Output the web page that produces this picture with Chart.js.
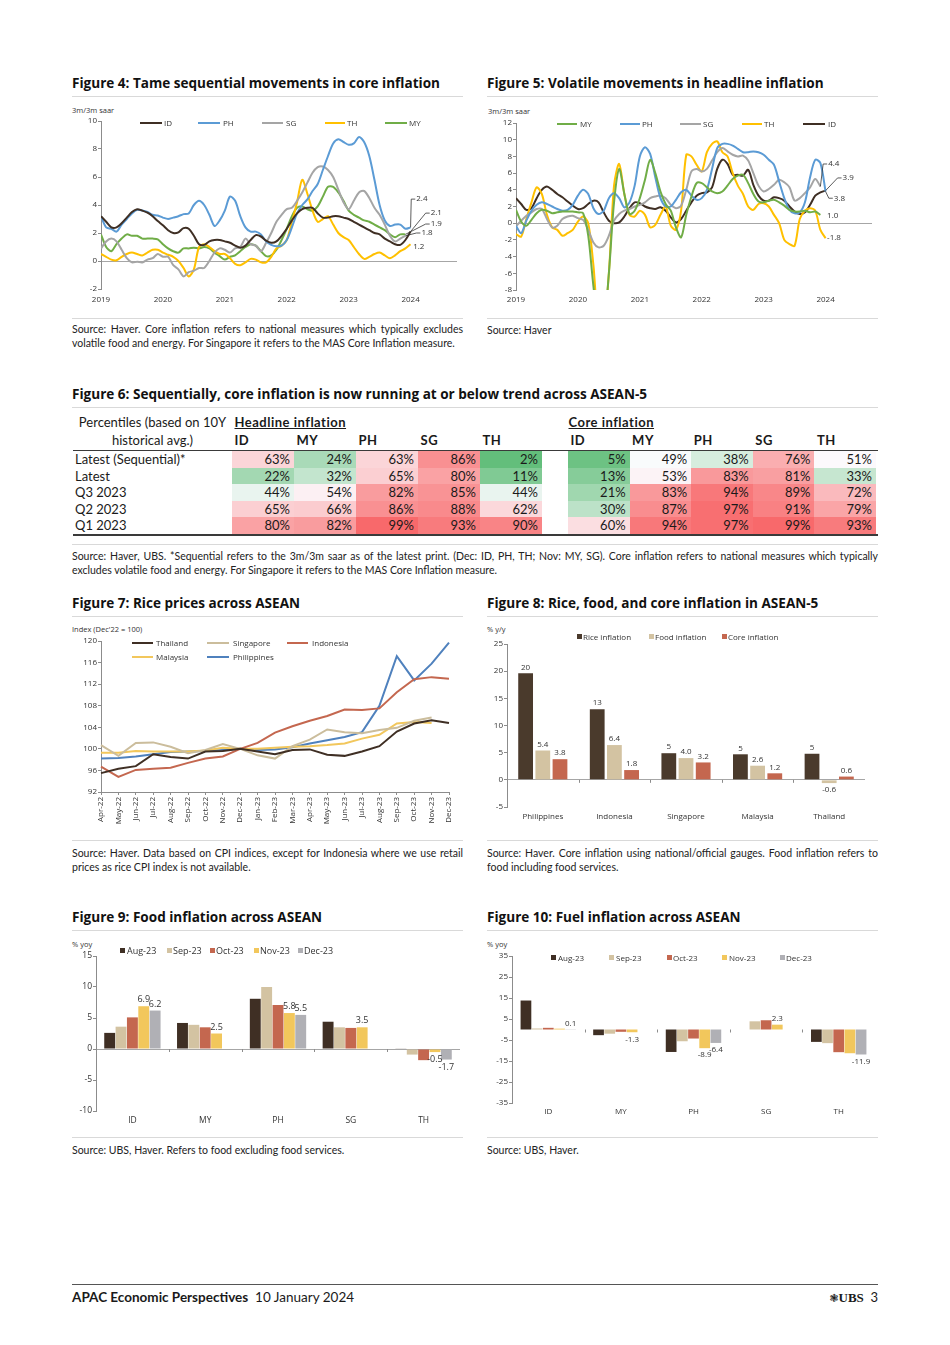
<!DOCTYPE html>
<html>
<head>
<meta charset="utf-8">
<title>APAC Economic Perspectives</title>
<script src="https://cdn.jsdelivr.net/npm/chart.js@4.4.1/dist/chart.umd.min.js"></script>
<style>
  html, body { margin: 0; padding: 0; background: #fff; }
  #page { position: relative; width: 950px; height: 1345px; overflow: hidden; font-family: Lato, "Open Sans", sans-serif; color: #1a1a1a; }
  .title { position: absolute; font-family: "Open Sans", sans-serif; font-weight: 700; font-size: 13px; line-height: 16px; white-space: nowrap; color: #111; }
  .rule { position: absolute; height: 1px; background: #d9d9d9; }
  .src { position: absolute; font-size: 10.5px; line-height: 13.5px; color: #222; }
  .src .j { display: block; text-align: justify; text-align-last: justify; }
  .note { position: absolute; font-family: "Open Sans", sans-serif; font-size: 7.5px; line-height: 10px; color: #333; white-space: nowrap; }
  .leg { position: absolute; font-family: "Open Sans", sans-serif; font-size: 8px; line-height: 10px; color: #333; white-space: nowrap; }
  .cell { position: absolute; box-sizing: border-box; font-size: 13px; line-height: 17px; white-space: nowrap; color: #1a1a1a; }
  canvas { position: absolute; }
</style>
</head>
<body>
<div id="page">

  <!-- Figure 4 / 5 -->
  <div class="title" style="left:72px;top:75px;">Figure 4: Tame sequential movements in core inflation</div>
  <div class="title" style="left:487px;top:75px;">Figure 5: Volatile movements in headline inflation</div>
  <div class="rule" style="left:72px;top:96px;width:391px;"></div>
  <div class="rule" style="left:487px;top:96px;width:391px;"></div>
  <div class="note" style="left:72px;top:105px;">3m/3m saar</div>
  <div class="note" style="left:488px;top:106px;">3m/3m saar</div>
  <canvas id="fig4" width="395" height="212" style="left:72px;top:100px;width:395px;height:212px;"></canvas>
  <canvas id="fig5" width="390" height="212" style="left:487px;top:100px;width:390px;height:212px;"></canvas>
  <div class="rule" style="left:72px;top:318px;width:391px;"></div>
  <div class="rule" style="left:487px;top:318px;width:391px;"></div>
  <div class="src" style="left:72px;top:323px;width:391px;"><span class="j">Source: Haver. Core inflation refers to national measures which typically excludes</span>volatile food and energy. For Singapore it refers to the MAS Core Inflation measure.</div>
  <div class="src" style="left:487px;top:324px;width:391px;">Source: Haver</div>

  <!-- Figure 6 -->
  <div class="title" id="t6" style="left:72px;top:386px;">Figure 6: Sequentially, core inflation is now running at or below trend across ASEAN-5</div>
  <div class="rule" style="left:72px;top:407px;width:806px;"></div>
  <div class="rule" style="left:72px;top:544px;width:806px;"></div>
  <div class="src" style="left:72px;top:550px;width:806px;"><span class="j">Source: Haver, UBS. *Sequential refers to the 3m/3m saar as of the latest print. (Dec: ID, PH, TH; Nov: MY, SG). Core inflation refers to national measures which typically</span>excludes volatile food and energy. For Singapore it refers to the MAS Core Inflation measure.</div>

  <!-- Figure 7 / 8 -->
  <div class="title" style="left:72px;top:595px;">Figure 7: Rice prices across ASEAN</div>
  <div class="title" style="left:487px;top:595px;">Figure 8: Rice, food, and core inflation in ASEAN-5</div>
  <div class="rule" style="left:72px;top:616px;width:391px;"></div>
  <div class="rule" style="left:487px;top:616px;width:391px;"></div>
  <div class="note" style="left:72px;top:624px;">Index (Dec'22 = 100)</div>
  <div class="note" style="left:487px;top:624px;">% y/y</div>
  <canvas id="fig7" width="392" height="212" style="left:72px;top:622px;width:392px;height:212px;"></canvas>
  <canvas id="fig8" width="390" height="212" style="left:487px;top:622px;width:390px;height:212px;"></canvas>
  <div class="rule" style="left:72px;top:840px;width:391px;"></div>
  <div class="rule" style="left:487px;top:840px;width:391px;"></div>
  <div class="src" style="left:72px;top:847px;width:391px;"><span class="j">Source: Haver. Data based on CPI indices, except for Indonesia where we use retail</span>prices as rice CPI index is not available.</div>
  <div class="src" style="left:487px;top:847px;width:391px;"><span class="j">Source: Haver. Core inflation using national/official gauges. Food inflation refers to</span>food including food services.</div>

  <!-- Figure 9 / 10 -->
  <div class="title" style="left:72px;top:909px;">Figure 9: Food inflation across ASEAN</div>
  <div class="title" style="left:487px;top:909px;">Figure 10: Fuel inflation across ASEAN</div>
  <div class="rule" style="left:72px;top:930px;width:391px;"></div>
  <div class="rule" style="left:487px;top:930px;width:391px;"></div>
  <div class="note" style="left:72px;top:939px;">% yoy</div>
  <div class="note" style="left:487px;top:939px;">% yoy</div>
  <canvas id="fig9" width="395" height="195" style="left:72px;top:938px;width:395px;height:195px;"></canvas>
  <canvas id="fig10" width="391" height="195" style="left:487px;top:938px;width:391px;height:195px;"></canvas>
  <div class="rule" style="left:72px;top:1137px;width:391px;"></div>
  <div class="rule" style="left:487px;top:1137px;width:391px;"></div>
  <div class="src" style="left:72px;top:1144px;width:391px;">Source: UBS, Haver. Refers to food excluding food services.</div>
  <div class="src" style="left:487px;top:1144px;width:391px;">Source: UBS, Haver.</div>

  <!-- footer -->
  <div style="position:absolute;left:72px;top:1284px;width:806px;height:1px;background:#555;"></div>
  <div style="position:absolute;left:72px;top:1289px;font-size:13.5px;line-height:16px;white-space:nowrap;"><b>APAC Economic Perspectives</b>&nbsp;&nbsp;10 January 2024</div>
  <div style="position:absolute;right:72px;top:1289px;font-size:13px;line-height:16px;white-space:nowrap;"><span style="font-family:'DejaVu Sans';font-size:11px;">❃</span><span style="font-family:'Liberation Serif';font-weight:700;">UBS</span>&nbsp;&nbsp;3</div>
</div>

<script>
// ===== Figure 4: core inflation, 3m/3m saar (monthly, index 0 = start of 2019) =====
const yearTicks = [0, 12, 24, 36, 48, 60];
const yearLabels = ['2019', '2020', '2021', '2022', '2023', '2024'];

const fig4Names = ['ID', 'PH', 'SG', 'TH', 'MY'];
const coreID = [3.2, 2.8, 2.4, 2.4, 2.7, 3.1, 3.5, 3.7, 3.6, 3.45, 3.2, 2.85, 2.55, 2.2, 2.0, 2.05, 2.35, 2.3, 1.8, 1.2,
  1.15, 1.4, 1.5, 1.5, 1.4, 1.3, 1.1, 0.95, 1.1, 1.5, 1.85, 1.75, 1.45, 1.3, 1.4, 1.8, 2.3, 2.9, 3.4, 3.7,
  3.8, 3.8, 3.4, 3.1, 3.1, 3.2, 3.2, 3.1, 3.0, 2.8, 2.6, 2.4, 2.2, 2.0, 1.9, 1.6, 1.4, 1.2, 1.15, 1.5, 2.1];
const corePH = [3.2, 2.4, 2.3, 2.1, 2.6, 3.0, 3.4, 3.65, 3.6, 3.5, 3.3, 3.25, 3.1, 3.0, 3.1, 3.2, 3.35, 3.4, 4.0, 4.3,
  4.0, 3.3, 2.5, 2.9, 3.6, 4.6, 4.3, 3.2, 2.4, 2.1, 2.1, 1.9, 1.4, 1.15, 1.05, 1.1, 1.5, 2.4, 3.4, 4.0,
  4.4, 5.0, 5.5, 6.5, 7.5, 8.4, 8.7, 8.5, 8.3, 8.4, 8.85, 8.5, 7.5, 5.8, 4.0, 2.9, 2.5, 2.6, 2.6, 2.3, 2.4];
const coreSG = [0.9, 1.4, 1.6, 1.4, 0.8, 0.2, -0.1, -0.05, -0.1, 0.1, 0.2, 0.5, 0.3, 0.3, -0.3, -0.6, -1.1, -0.8, -0.7, -0.5,
  -0.5, 0.0, 0.6, 0.9, 0.8, 0.6, 0.9, 1.0, 1.6, 1.2, 1.1, 0.7, 1.3, 2.0, 2.8, 3.3, 3.7, 3.8, 4.3, 4.9,
  5.6, 6.3, 6.7, 6.75, 6.5, 6.0, 5.1, 4.2, 3.7, 4.3, 4.9, 5.0, 4.5, 3.8, 3.3, 2.6, 1.8, 1.4, 1.6, 1.8];
const coreTH = [0.5, 0.3, 0.1, 0.05, 0.3, 0.5, 0.6, 0.5, 0.4, 0.6, 0.8, 0.8, 0.6, 0.45, 0.3, 0.0, -0.5, -1.1, -0.6, 1.0,
  1.2, 1.0, 0.7, 0.5, 0.5, 0.2, -0.2, -0.3, -0.1, 0.15, 0.1, -0.1, -0.1, 0.3, 0.9, 1.1, 1.5, 2.8, 4.2, 5.8,
  4.8, 3.6, 2.8, 3.0, 3.2, 2.6, 2.0, 1.7, 1.5, 1.0, 0.5, 0.15, 0.3, 0.5, 0.6, 0.4, 0.2, 0.4, 0.7, 0.9, 1.2];
const coreMY = [1.9, 1.0, 0.7, 1.2, 1.6, 1.9, 1.8, 1.8, 1.6, 1.6, 1.6, 1.55, 1.2, 0.9, 0.7, 0.6, 0.9, 0.9, 0.95, 0.9,
  1.0, 0.9, 0.6, 0.35, 0.1, 0.3, 0.4, 0.7, 1.0, 1.2, 1.1, 0.7, 0.35, 0.4, 0.8, 1.5, 2.3, 3.2, 3.8, 3.9,
  3.7, 3.6, 3.9, 4.6, 5.3, 5.3, 4.9, 4.3, 3.6, 3.3, 3.1, 2.9, 2.8, 2.6, 2.4, 2.2, 1.9, 1.7, 1.9, 1.9];

// ===== Figure 5: headline inflation, 3m/3m saar =====
const fig5Names = ['MY', 'PH', 'SG', 'TH', 'ID'];
const headMY = [1.6, 0.2, -0.3, 0.4, 1.2, 1.6, 1.5, 1.2, 1.3, 1.4, 1.4, 1.4, 1.3, 1.2, -1.5, -7.5, -12, -12, -6, 2.5,
  6.5, 3.5, 1.1, 1.5, 3.0, 5.2, 7.6, 6.0, 3.8, 2.3, 1.5, -0.5, -1.7, 1.0, 3.2, 4.8, 4.8, 4.3, 3.8, 3.6,
  3.8, 4.5, 5.3, 5.7, 5.8, 4.8, 3.5, 2.6, 2.5, 2.7, 2.8, 2.5, 2.1, 1.6, 1.4, 1.4, 1.5, 1.3, 1.4, 1.0];
const headPH = [-0.3, -1.2, 0.3, 1.5, 2.2, 2.5, 2.3, 2.0, 1.7, 1.5, 1.6, 2.2, 3.3, 4.0, 3.5, 1.8, 1.1, 1.5, 3.0, 3.6,
  3.0, 1.9, 2.5, 4.5, 8.0, 9.1, 8.3, 5.5, 3.0, 2.0, 2.0, 2.8, 3.7, 4.0, 3.3, 2.8, 3.0, 4.0, 6.5, 9.0,
  9.5, 9.5, 9.3, 8.9, 8.5, 8.5, 8.6, 8.5, 8.2, 7.6, 7.0, 5.0, 3.0, 1.6, 1.2, 1.3, 2.5, 5.5, 7.6, 7.2, 3.8];
const headSG = [-0.4, 0.3, 0.9, 1.3, 1.7, 1.7, 0.5, -0.5, -0.3, 0.5, 0.8, 0.9, 0.6, 0.4, -0.8, -2.3, -2.9, -2.7, -1.5, 0.3,
  1.1, 1.5, 1.7, 2.0, 2.2, 2.5, 3.0, 3.2, 3.3, 3.0, 2.2, 1.8, 2.1, 4.0, 6.2, 6.5, 6.2, 6.5, 7.5, 8.5,
  9.0, 8.6, 8.2, 8.0, 8.1, 7.5, 6.0, 4.5, 3.8, 4.1, 4.6, 5.2, 4.9, 4.3, 2.7, 3.0, 3.6, 4.3, 5.3, 4.4];
const headTH = [-1.3, -1.6, 0.5, 2.5, 4.3, 3.5, 1.0, -0.5, -0.8, -1.5, -1.2, -0.8, 0.2, 0.8, 0.0, -5.0, -12, -12, -6, 4.5,
  7.1, 3.5, 1.0, 0.8, 1.5, 1.0, -0.5, -0.2, 1.0, 2.0, -0.3, -0.8, 1.5, 8.2, 8.0, 7.0, 6.2, 8.5, 9.5, 9.8,
  8.5, 8.0, 6.0, 4.5, 3.5, 2.0, 1.6, 2.3, 2.4, 2.0, 1.0, 0.0, -2.0, -2.5, -2.7, 0.5, 1.5, 1.8, 1.5, -0.8, -1.8];
const headID = [3.0, 2.3, 1.6, 1.8, 3.0, 4.0, 4.4, 4.0, 3.5, 3.1, 2.6, 2.1, 1.7, 1.8, 2.3, 2.7, 2.5, 1.3, 0.3, 0.0,
  0.1, 0.8, 1.8, 2.5, 2.4, 2.0, 1.8, 1.7, 1.9, 1.5, 0.7, 0.1, 0.5, 1.5, 2.5, 3.3, 3.6, 3.7, 4.3, 6.5,
  7.6, 7.1, 5.8, 5.8, 5.7, 6.4, 4.6, 3.3, 2.7, 2.7, 3.1, 3.0, 2.7, 2.0, 1.4, 1.1, 1.3, 2.2, 3.3, 3.7, 3.9];

// ===== Figure 6: percentile table =====
const tableRowNames = ['Latest (Sequential)*', 'Latest', 'Q3 2023', 'Q2 2023', 'Q1 2023'];
const tableCountries = ['ID', 'MY', 'PH', 'SG', 'TH'];
const headlinePct = [[63, 24, 63, 86, 2], [22, 32, 65, 80, 11], [44, 54, 82, 85, 44], [65, 66, 86, 88, 62], [80, 82, 99, 93, 90]];
const corePct = [[5, 49, 38, 76, 51], [13, 53, 83, 81, 33], [21, 83, 94, 89, 72], [30, 87, 97, 91, 79], [60, 94, 97, 99, 93]];

// ===== Figure 7: rice prices, index Dec'22 = 100 =====
const riceMonths = ['Apr-22', 'May-22', 'Jun-22', 'Jul-22', 'Aug-22', 'Sep-22', 'Oct-22', 'Nov-22', 'Dec-22', 'Jan-23', 'Feb-23',
  'Mar-23', 'Apr-23', 'May-23', 'Jun-23', 'Jul-23', 'Aug-23', 'Sep-23', 'Oct-23', 'Nov-23', 'Dec-23'];
const fig7Names = ['Thailand', 'Singapore', 'Indonesia', 'Malaysia', 'Philippines'];
const riceTH = [95.5, 96.3, 96.8, 99.0, 98.5, 98.2, 99.5, 99.6, 100, 99.5, 99.0, 99.8, 99.9, 98.9, 98.7, 99.5, 100.5, 103.2, 104.7, 105.3, 104.8];
const riceSG = [100.7, 98.7, 101.1, 101.2, 100.4, 99.2, 99.8, 100.9, 100, 98.8, 98.2, 100.5, 101.7, 103.6, 103.1, 102.9, 103.5, 103.9, 105.2, 105.8];
const riceID = [96.7, 94.8, 96.1, 96.3, 96.5, 97.4, 98.2, 98.6, 100, 101.1, 103.0, 104.2, 105.2, 106.1, 107.3, 107.2, 107.5, 110.5, 112.9, 113.3, 113.0];
const riceMY = [99.3, 99.3, 99.6, 99.5, 99.5, 99.5, 99.7, 100.2, 100, 100.0, 100.2, 100.4, 100.5, 100.7, 101.0, 101.9, 102.6, 104.7, 105.0, 104.8];
const ricePH = [98.2, 98.3, 98.6, 99.0, 99.4, 99.5, 99.6, 99.8, 100, 99.8, 99.9, 100.3, 101.0, 101.6, 102.2, 103.1, 108.0, 117.2, 112.7, 115.8, 119.7];

// ===== Figure 8: rice, food and core inflation, % y/y =====
const fig8Countries = ['Philippines', 'Indonesia', 'Singapore', 'Malaysia', 'Thailand'];
const fig8Names = ['Rice inflation', 'Food inflation', 'Core inflation'];
const riceInfl = [19.6, 13.0, 4.9, 4.7, 4.8];
const foodInfl = [5.4, 6.4, 4.0, 2.6, -0.6];
const coreInfl = [3.8, 1.8, 3.2, 1.2, 0.6];

// ===== Figures 9 and 10: food and fuel inflation, % yoy =====
const aseanCodes = ['ID', 'MY', 'PH', 'SG', 'TH'];
const monthNames = ['Aug-23', 'Sep-23', 'Oct-23', 'Nov-23', 'Dec-23'];
const foodAug = [2.6, 4.2, 8.1, 4.4, 0.1];
const foodSep = [3.6, 3.9, 10.0, 3.5, -0.9];
const foodOct = [5.1, 3.5, 7.1, 3.4, -1.8];
const foodNov = [6.9, 2.5, 5.8, 3.5, -0.5];
const foodDec = [6.2, null, 5.5, null, -1.7];
const fuelAug = [13.8, -2.7, -10.7, null, -5.9];
const fuelSep = [0.5, -2.0, -5.6, 3.9, -6.5];
const fuelOct = [0.8, -1.1, -4.3, 4.4, -10.8];
const fuelNov = [0.4, -1.3, -8.9, 2.3, -11.3];
const fuelDec = [0.1, null, -6.4, null, -11.9];

// ---------------------------------------------------------------------------
const C_BROWN = '#3f2f24';
const C_BEIGE = '#d3c3a2';
const C_RUST = '#c4674f';
const C_YELLOW = '#f2c75c';
const C_GREY = '#b0b0b5';
const AXIS = '#8c8c8c';

Chart.defaults.font.family = '"Open Sans", sans-serif';
Chart.defaults.font.size = 8;
Chart.defaults.color = '#333';
Chart.defaults.animation = false;

const page = document.getElementById('page');

// heading size: fit the long Figure 6 title to its width in the report
const t6 = document.getElementById('t6');
const titleSize = 13 * 575 / t6.getBoundingClientRect().width;
document.querySelectorAll('.title').forEach(t => { t.style.fontSize = titleSize.toFixed(2) + 'px'; });

function addBox(style, text, cls) {
    const d = document.createElement('div');
    d.className = cls || 'cell';
    Object.assign(d.style, style);
    if (text !== undefined) d.textContent = text;
    page.appendChild(d);
    return d;
}

// legend helpers (html, positioned over the canvas)
function lineLegend(name, color, x1, x2, tx, y) {
    addBox({ left: x1 + 'px', top: (y - 1) + 'px', width: (x2 - x1) + 'px', height: '2px', background: color }, undefined, 'leg');
    addBox({ left: tx + 'px', top: (y - 5) + 'px' }, name, 'leg');
}
function boxLegend(name, color, x, tx, y, size) {
    addBox({ left: x + 'px', top: (y - 3) + 'px', width: '5px', height: '5px', background: color }, undefined, 'leg');
    const t = addBox({ left: tx + 'px', top: (y - 5) + 'px' }, name, 'leg');
    if (size) t.style.fontSize = size + 'px';
}

function yAxis(min, max, step, width, fontSize) {
    return {
        min: min,
        max: max,
        ticks: { stepSize: step, padding: 1, font: { size: fontSize || 8 } },
        grid: {
            color: c => (c.tick && c.tick.value === 0 ? '#a6a6a6' : 'rgba(0,0,0,0)'),
            tickColor: AXIS,
            tickLength: 3
        },
        border: { display: true, color: AXIS },
        afterFit: s => { s.width = width; }
    };
}

function yearAxis(height, pad) {
    return {
        type: 'linear',
        min: 0,
        max: 69,
        afterBuildTicks: s => { s.ticks = yearTicks.map(v => ({ value: v })); },
        ticks: { callback: (v, i) => yearLabels[i], padding: pad, maxRotation: 0, autoSkip: false },
        grid: { display: false, drawTicks: false },
        border: { display: false },
        afterFit: s => { s.height = height; }
    };
}

function catAxis(height, pad, fontSize) {
    return {
        ticks: { padding: pad, font: { size: fontSize || 8 } },
        grid: { display: false, drawTicks: false },
        border: { display: false },
        afterFit: s => { s.height = height; }
    };
}

function monthlySet(label, values, color) {
    return {
        label: label,
        data: values.map((v, i) => ({ x: i, y: v })),
        borderColor: color,
        backgroundColor: color,
        borderWidth: 2,
        pointRadius: 0,
        tension: 0.3,
        fill: false
    };
}

// value labels next to the last point of a series
function endLabels(items) {
    return {
        id: 'endLabels',
        afterDatasetsDraw(chart) {
            const { ctx, scales: { x, y } } = chart;
            ctx.save();
            ctx.font = '8px "Open Sans"';
            ctx.fillStyle = '#333';
            ctx.strokeStyle = '#333';
            ctx.lineWidth = 0.8;
            ctx.textBaseline = 'middle';
            items.forEach(it => {
                const ds = chart.data.datasets[it.ds];
                const meta = chart.getDatasetMeta(it.ds);
                const pt = meta.data[meta.data.length - 1];
                const text = ds.data[ds.data.length - 1].y.toFixed(1);
                const lx = x.getPixelForValue(it.lx);
                const ly = y.getPixelForValue(it.ly);
                if (it.leader) {
                    ctx.beginPath();
                    ctx.moveTo(pt.x, pt.y);
                    ctx.lineTo(lx - 5, ly);
                    ctx.lineTo(lx - 1, ly);
                    ctx.stroke();
                }
                ctx.fillText(text, lx, ly);
            });
            ctx.restore();
        }
    };
}

// value labels on selected bars: pairs of [dataset, index]
function barLabels(pairs, digits, fontSize) {
    return {
        id: 'barLabels',
        afterDatasetsDraw(chart) {
            const ctx = chart.ctx;
            ctx.save();
            ctx.font = (fontSize || 8) + 'px "Open Sans"';
            ctx.fillStyle = '#333';
            ctx.textAlign = 'center';
            pairs.forEach(([d, i]) => {
                const v = chart.data.datasets[d].data[i];
                const bar = chart.getDatasetMeta(d).data[i];
                if (v === null || !bar) return;
                const txt = v.toFixed(digits);
                if (v >= 0) {
                    ctx.textBaseline = 'bottom';
                    ctx.fillText(txt, bar.x, bar.y - 2);
                } else {
                    ctx.textBaseline = 'top';
                    ctx.fillText(txt, bar.x, bar.y + 3);
                }
            });
            ctx.restore();
        }
    };
}

// small tick marks on the zero line between categories
const zeroTicks = {
    id: 'zeroTicks',
    afterDraw(chart) {
        const { ctx, scales: { x, y } } = chart;
        const y0 = y.getPixelForValue(0);
        ctx.save();
        ctx.strokeStyle = AXIS;
        ctx.lineWidth = 1;
        for (let i = 1; i < chart.data.labels.length; i++) {
            const px = Math.round((x.getPixelForValue(i - 1) + x.getPixelForValue(i)) / 2) + 0.5;
            ctx.beginPath();
            ctx.moveTo(px, y0);
            ctx.lineTo(px, y0 + 3);
            ctx.stroke();
        }
        ctx.restore();
    }
};

const baseOptions = (padTop, padRight) => ({
    responsive: false,
    animation: false,
    layout: { padding: { top: padTop, right: padRight, left: 0, bottom: 0 } },
    plugins: { legend: { display: false }, tooltip: { enabled: false } }
});

// ===== Figure 4 =====
const fig4Colors = [C_BROWN, '#5b9bd5', '#a5a5a5', '#ffc000', '#70ad47'];
const fig4Series = [coreID, corePH, coreSG, coreTH, coreMY];
new Chart(document.getElementById('fig4'), {
    type: 'line',
    data: { datasets: fig4Series.map((s, k) => monthlySet(fig4Names[k], s, fig4Colors[k])) },
    options: Object.assign(baseOptions(21, 10), {
        scales: { x: yearAxis(23, 6), y: yAxis(-2, 10, 2, 29) }
    }),
    plugins: [endLabels([
        { ds: 1, lx: 61.1, ly: 4.42, leader: true },
        { ds: 0, lx: 63.9, ly: 3.42, leader: true },
        { ds: 4, lx: 63.9, ly: 2.64, leader: true },
        { ds: 2, lx: 62.1, ly: 2.0, leader: true },
        { ds: 3, lx: 60.5, ly: 1.0, leader: false }
    ])]
});
[[140, 162, 164], [198, 220, 223], [262, 283, 286], [325, 345, 347], [385, 407, 409]].forEach((p, k) =>
    lineLegend(fig4Names[k], fig4Colors[k], p[0], p[1], p[2], 123));

// ===== Figure 5 =====
const fig5Colors = ['#70ad47', '#5b9bd5', '#a5a5a5', '#ffc000', C_BROWN];
const fig5Series = [headMY, headPH, headSG, headTH, headID];
new Chart(document.getElementById('fig5'), {
    type: 'line',
    data: { datasets: fig5Series.map((s, k) => monthlySet(fig5Names[k], s, fig5Colors[k])) },
    options: Object.assign(baseOptions(23, 5), {
        scales: { x: yearAxis(22, 5), y: yAxis(-8, 12, 2, 29) }
    }),
    plugins: [endLabels([
        { ds: 2, lx: 60.5, ly: 7.09, leader: true },
        { ds: 4, lx: 63.3, ly: 5.42, leader: true },
        { ds: 1, lx: 61.6, ly: 2.99, leader: true },
        { ds: 0, lx: 60.3, ly: 0.92, leader: false },
        { ds: 3, lx: 60.3, ly: -1.75, leader: false }
    ])]
});
[[557, 577, 580], [620, 640, 642], [680, 701, 703], [742, 762, 764], [803, 825, 828]].forEach((p, k) =>
    lineLegend(fig5Names[k], fig5Colors[k], p[0], p[1], p[2], 124));

// ===== Figure 6 table =====
function heat(v) {
    const green = [99, 190, 123], white = [252, 252, 255], red = [248, 105, 107];
    let a, b, t;
    if (v <= 50) { a = green; b = white; t = Math.max(0, (v - 2) / 48); }
    else { a = white; b = red; t = Math.min(1, (v - 50) / 49); }
    const c = a.map((x, k) => Math.round(x + (b[k] - x) * t));
    return 'rgb(' + c.join(',') + ')';
}
const headX = [232, 294, 356, 418, 480];
const coreX = [568, 629.6, 691.2, 752.8, 814.4];
const rowH = 16.6;
addBox({ left: '73px', top: '414px', width: '159px', textAlign: 'center' }, 'Percentiles (based on 10Y');
addBox({ left: '73px', top: '432px', width: '159px', textAlign: 'center' }, 'historical avg.)');
addBox({ left: '234.5px', top: '414px', fontWeight: '700', textDecoration: 'underline', letterSpacing: '0.5px' }, 'Headline inflation');
addBox({ left: '568.5px', top: '414px', fontWeight: '700', textDecoration: 'underline', letterSpacing: '0.5px' }, 'Core inflation');
tableCountries.forEach((c, k) => {
    addBox({ left: (headX[k] + 2.5) + 'px', top: '432px', fontWeight: '700', letterSpacing: '0.5px' }, c);
    addBox({ left: (coreX[k] + 2.5) + 'px', top: '432px', fontWeight: '700', letterSpacing: '0.5px' }, c);
});
tableRowNames.forEach((name, r) => {
    const top = 451 + r * rowH;
    addBox({ left: '75px', top: top + 'px', height: rowH + 'px', lineHeight: rowH + 'px' }, name);
    [[headlinePct, headX, 62], [corePct, coreX, 61.6]].forEach(([vals, xs, w]) => {
        vals[r].forEach((v, k) => {
            addBox({
                left: xs[k] + 'px', top: top + 'px', width: w + 'px', height: rowH + 'px', lineHeight: rowH + 'px',
                background: heat(v), textAlign: 'right', paddingRight: '4px'
            }, v + '%');
        });
    });
});
addBox({ left: '73px', top: '449.5px', width: '805px', height: '1.6px', background: '#3a3a3a' }, undefined, 'leg');
addBox({ left: '73px', top: '534px', width: '805px', height: '1.6px', background: '#3a3a3a' }, undefined, 'leg');

// ===== Figure 7 =====
const fig7Colors = [C_BROWN, '#cbbd9c', C_RUST, C_YELLOW, '#4f81bd'];
const fig7Series = [riceTH, riceSG, riceID, riceMY, ricePH];
new Chart(document.getElementById('fig7'), {
    type: 'line',
    data: {
        labels: riceMonths,
        datasets: fig7Series.map((s, k) => ({
            label: fig7Names[k], data: s, borderColor: fig7Colors[k], backgroundColor: fig7Colors[k],
            borderWidth: 2, pointRadius: 0, tension: 0, fill: false
        }))
    },
    options: Object.assign(baseOptions(19, 15), {
        scales: {
            x: {
                type: 'category',
                offset: false,
                ticks: { minRotation: 90, maxRotation: 90, autoSkip: false, padding: 2 },
                grid: { drawOnChartArea: false, tickLength: 3, tickColor: AXIS },
                border: { display: true, color: AXIS },
                afterFit: s => { s.height = 42; }
            },
            y: yAxis(92, 120, 4, 29)
        }
    })
});
lineLegend(fig7Names[0], fig7Colors[0], 132, 153, 156, 643);
lineLegend(fig7Names[1], fig7Colors[1], 207, 229, 233, 643);
lineLegend(fig7Names[2], fig7Colors[2], 287, 308, 312, 643);
lineLegend(fig7Names[3], fig7Colors[3], 132, 153, 156, 657);
lineLegend(fig7Names[4], fig7Colors[4], 207, 229, 233, 657);

// ===== Figure 8 =====
const fig8Colors = ['#4a3a2c', C_BEIGE, C_RUST];
new Chart(document.getElementById('fig8'), {
    type: 'bar',
    data: {
        labels: fig8Countries,
        datasets: [riceInfl, foodInfl, coreInfl].map((s, k) => ({ label: fig8Names[k], data: s, backgroundColor: fig8Colors[k] }))
    },
    options: Object.assign(baseOptions(22, 12), {
        datasets: { bar: { categoryPercentage: 0.72, barPercentage: 0.86 } },
        scales: { x: catAxis(27, 5), y: yAxis(-5, 25, 5, 20) }
    }),
    plugins: [zeroTicks,
        barLabels([[0, 0], [0, 1], [0, 2], [0, 3], [0, 4]], 0),
        barLabels([[1, 0], [1, 1], [1, 2], [1, 3], [1, 4], [2, 0], [2, 1], [2, 2], [2, 3], [2, 4]], 1)]
});
boxLegend(fig8Names[0], fig8Colors[0], 577, 583, 637);
boxLegend(fig8Names[1], fig8Colors[1], 649, 655, 637);
boxLegend(fig8Names[2], fig8Colors[2], 722, 728, 637);

// ===== Figure 9 =====
const monthColors = [C_BROWN, C_BEIGE, C_RUST, C_YELLOW, C_GREY];
new Chart(document.getElementById('fig9'), {
    type: 'bar',
    data: {
        labels: aseanCodes,
        datasets: [foodAug, foodSep, foodOct, foodNov, foodDec].map((s, k) => ({ label: monthNames[k], data: s, backgroundColor: monthColors[k] }))
    },
    options: Object.assign(baseOptions(18, 7), {
        datasets: { bar: { categoryPercentage: 0.78, barPercentage: 0.96 } },
        scales: { x: catAxis(22, 4, 8.5), y: yAxis(-10, 15, 5, 24, 8.5) }
    }),
    plugins: [zeroTicks, barLabels([[3, 0], [4, 0], [3, 1], [3, 2], [4, 2], [3, 3], [3, 4], [4, 4]], 1, 9)]
});
[[120, 127], [167, 173], [210, 216], [254, 260], [298, 304]].forEach((p, k) =>
    boxLegend(monthNames[k], monthColors[k], p[0], p[1], 951, 9));

// ===== Figure 10 =====
new Chart(document.getElementById('fig10'), {
    type: 'bar',
    data: {
        labels: aseanCodes,
        datasets: [fuelAug, fuelSep, fuelOct, fuelNov, fuelDec].map((s, k) => ({ label: monthNames[k], data: s, backgroundColor: monthColors[k] }))
    },
    options: Object.assign(baseOptions(18, 3), {
        datasets: { bar: { categoryPercentage: 0.77, barPercentage: 0.96 } },
        scales: { x: catAxis(30, 4), y: yAxis(-35, 35, 10, 25) }
    }),
    plugins: [zeroTicks, barLabels([[4, 0], [3, 1], [3, 2], [4, 2], [3, 3], [4, 4]], 1)]
});
[[551, 558], [609, 616], [667, 673], [722, 729], [780, 786]].forEach((p, k) =>
    boxLegend(monthNames[k], monthColors[k], p[0], p[1], 958));
</script>
</body>
</html>
